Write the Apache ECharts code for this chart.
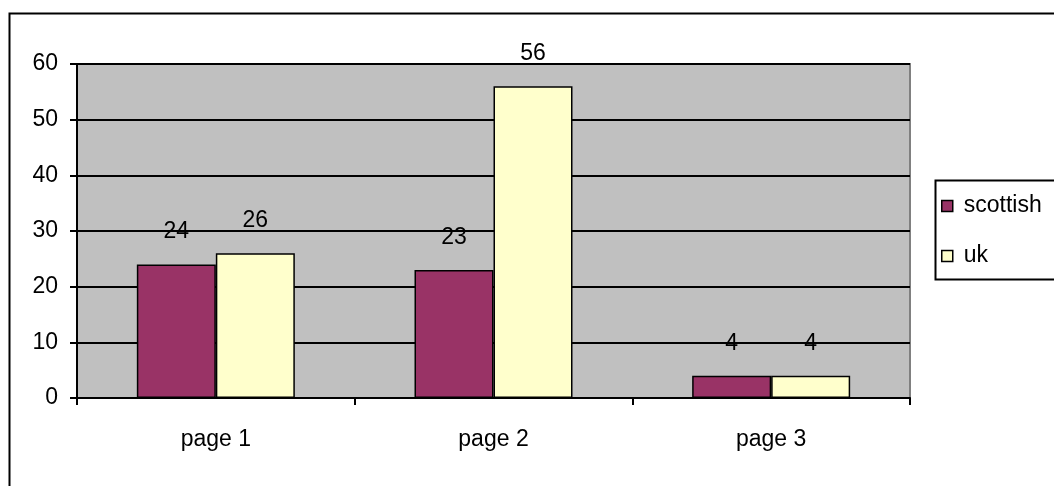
<!DOCTYPE html>
<html>
<head>
<meta charset="utf-8">
<script src="https://cdn.jsdelivr.net/npm/echarts@6/dist/echarts.min.js"></script>
<style>
html,body{margin:0;padding:0;background:#fff;}
#c{width:1054px;height:486px;}
</style>
</head>
<body>
<div id="c"></div>
<script>
const categories = ['page 1', 'page 2', 'page 3'];
const scottish = [24, 23, 4];
const uk = [26, 56, 4];
const yTicks = { min: 0, max: 60, interval: 10 };

const FONT = '"Liberation Sans", Arial, sans-serif';
const chart = echarts.init(document.getElementById('c'));
chart.setOption({
  animation: false,
  backgroundColor: '#ffffff',
  textStyle: { fontFamily: FONT },
  grid: {
    left: 77, top: 64, width: 833, height: 334,
    show: true, backgroundColor: '#C0C0C0', borderColor: '#808080', borderWidth: 2
  },
  legend: {
    orient: 'vertical',
    left: 936, top: 188,
    itemWidth: 11, itemHeight: 11, itemGap: 24,
    icon: 'rect',
    textStyle: { fontFamily: FONT, fontSize: 23, color: '#000', lineHeight: 26, padding: [0, 0, 0, 6] },
    itemStyle: { borderColor: '#000', borderWidth: 1.5 },
    data: ['scottish', 'uk']
  },
  xAxis: {
    type: 'category',
    data: categories,
    axisLine: { lineStyle: { color: '#000', width: 2 } },
    axisTick: { show: true, length: 7, lineStyle: { color: '#000', width: 2 } },
    axisLabel: { fontFamily: FONT, fontSize: 23, color: '#000', margin: 30 },
    splitLine: { show: false }
  },
  yAxis: {
    type: 'value',
    min: yTicks.min, max: yTicks.max, interval: yTicks.interval,
    axisLine: { show: true, lineStyle: { color: '#000', width: 2 } },
    axisTick: { show: true, length: 7, lineStyle: { color: '#000', width: 2 } },
    axisLabel: { fontFamily: FONT, fontSize: 23, color: '#000', margin: 19 },
    splitLine: { show: true, lineStyle: { color: '#000', width: 2 } }
  },
  series: [
    {
      name: 'scottish', type: 'bar', data: scottish,
      barWidth: 79, barGap: '0%',
      itemStyle: { color: '#993366', borderColor: '#000', borderWidth: 1.5 },
      label: { show: true, position: 'top', distance: 21, fontFamily: FONT, fontSize: 23, color: '#000' }
    },
    {
      name: 'uk', type: 'bar', data: uk,
      barWidth: 79, barGap: '0%',
      itemStyle: { color: '#FFFFCC', borderColor: '#000', borderWidth: 1.5 },
      label: { show: true, position: 'top', distance: 21, fontFamily: FONT, fontSize: 23, color: '#000' }
    }
  ],
  graphic: [
    { type: 'rect', left: 7, top: 11, silent: true,
      shape: { width: 1100, height: 520 },
      style: { fill: 'none', stroke: '#000', lineWidth: 2 } },
    { type: 'rect', left: 933, top: 178, silent: true,
      shape: { width: 200, height: 99 },
      style: { fill: 'none', stroke: '#000', lineWidth: 2 } },
    { type: 'text', left: 538, top: 255, silent: true,
      style: { text: '`', font: '20px "Liberation Sans", Arial, sans-serif', fill: '#000' } }
  ]
});
</script>
</body>
</html>
